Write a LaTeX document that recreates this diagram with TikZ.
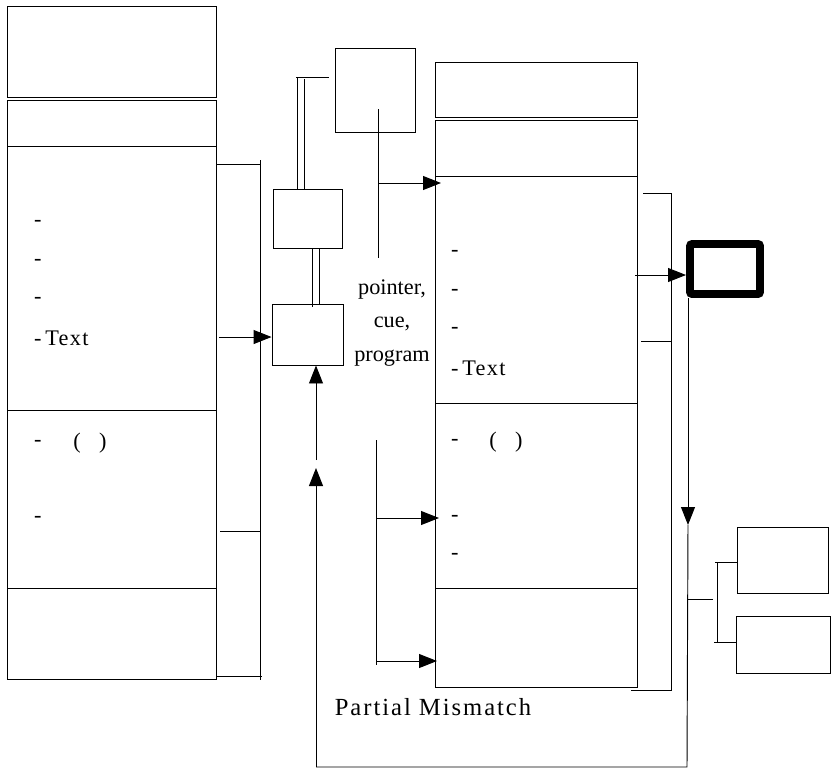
\documentclass[tikz,border=0pt]{standalone}
\usepackage{fontspec}
\setmainfont{Liberation Serif}
\usetikzlibrary{arrows.meta, fit, calc}

\begin{document}
\begin{tikzpicture}[
    x=0.03cm, y=-0.03cm,
    box/.style={draw, line width=0.8pt, inner sep=0pt},
    boldbox/.style={draw, line width=6.8pt, rounded corners=2pt, inner sep=0pt},
    wire/.style={line width=0.8pt},
    arrow/.style={wire, -{Triangle[length=0.54cm, width=0.42cm]}},
    txt/.style={font=\fontsize{19}{29}\selectfont, inner sep=0pt},
    spaced/.style={font=\fontsize{19}{29}\selectfont\addfontfeature{LetterSpace=6}, inner sep=0pt},
]
\useasboundingbox (0,0) rectangle (833,771);

% Left column
\node[box, fit={(7,6) (216,97)}] (lhead) {};
\node[box, fit={(7,100) (216,146)}] (lsub) {};
\node[box, fit={(7,146) (216,410)}] (lbody) {};
\node[box, fit={(7,410) (216,588)}] (lrel) {};
\node[box, fit={(7,588) (216,679)}] (lfoot) {};

\node[txt, anchor=west] at (34,223) {-};
\node[txt, anchor=west] at (34,262) {-};
\node[txt, anchor=west] at (34,300) {-};
\node[spaced, anchor=west] at (34,338) {-\,Text};
\node[txt, anchor=west] at (34,443) {-};
\node[txt] at (90,443) {(\hspace{0.55cm})};
\node[txt, anchor=west] at (34,519) {-};

% Middle boxes
\node[box, fit={(335,48) (415,132)}] (topbox) {};
\node[box, fit={(273,189) (342,248)}] (midbox) {};
\node[box, fit={(272,304) (343,365)}] (lowbox) {};

\node[txt, align=center] (cue) at (392,323) {pointer,\\cue,\\program};

% Right column
\node[box, fit={(435,62) (637,117)}] (rhead) {};
\node[box, fit={(435,120) (637,176)}] (rsub) {};
\node[box, fit={(435,176) (637,403)}] (rbody) {};
\node[box, fit={(435,403) (637,588)}] (rrel) {};
\node[box, fit={(435,588) (637,687)}] (rfoot) {};

\node[txt, anchor=west] at (451,253) {-};
\node[txt, anchor=west] at (451,292) {-};
\node[txt, anchor=west] at (451,330) {-};
\node[spaced, anchor=west] at (451,368) {-\,Text};
\node[txt, anchor=west] at (451,442) {-};
\node[txt] at (506,442) {(\hspace{0.55cm})};
\node[txt, anchor=west] at (451,518) {-};
\node[txt, anchor=west] at (451,556) {-};

\node[font=\fontsize{21}{25}\selectfont\addfontfeature{LetterSpace=8}, inner sep=0pt] (mismatch) at (433,707) {Partial Mismatch};

% Bold box and small boxes
\node[boldbox, fit={(690,244) (760,294)}] (bold) {};
\node[box, fit={(737,527) (828,593)}] (sbox1) {};
\node[box, fit={(736,616) (830,673)}] (sbox2) {};

% Coordinates
\coordinate (lb1) at (217,164);
\coordinate (lb2) at (260,160);
\coordinate (lb3) at (260,680);
\coordinate (lin) at (219,337);
\coordinate (ptop) at (378,109);
\coordinate (pbot) at (378,258);
\coordinate (qtop) at (376,440);
\coordinate (qbot) at (376,665);
\coordinate (rb1) at (643,193);
\coordinate (rb2) at (671,690);
\coordinate (rin) at (635,275);
\coordinate (drop) at (688,525);
\coordinate (corner) at (687,767);
\coordinate (back) at (316,767);
\coordinate (back2) at (316,460);

% Left bracket
\draw[wire] (lb1) -- (lb1 -| lb2);
\draw[wire] (lb2) -- (lb3);
\draw[wire] (220,531) -- (261,531);
\draw[wire] (217,676) -- (262,676);
\draw[arrow] (lin) -- (lin -| lowbox.west);

% Double links between middle boxes
\draw[wire] (296,77) -- (329,77);
\draw[wire] (297,77) -- (297,189);
\draw[wire] (304,79) -- (304,189);
\draw[wire] (312,248) -- (312,307);
\draw[wire] (319,248) -- (319,304);

% Pointer lines
\draw[wire] (ptop) -- (pbot);
\draw[arrow] (378,183) -- (441,183);
\draw[wire] (qtop) -- (qbot);
\draw[arrow] (376,518) -- (439,518);
\draw[arrow] (376,661) -- (437,661);

% Right bracket
\draw[wire] (rb1) -- (rb1 -| rb2) -- (rb2) -- (631,690);
\draw[wire] (641,341) -- (671,341);
\draw[arrow] (rin) -- (rin -| bold.west);

% Feedback loop
\draw[arrow] (688,298) -- (drop);
\draw[wire] (drop) -- (corner) -- (back);
\draw[arrow] (back) -- (316,468);
\draw[arrow] (back2) -- (back2 |- lowbox.south);

% Small boxes bracket
\draw[wire] (687,599) -- (713,599);
\draw[wire] (717,562) -- (717,642);
\draw[wire] (715,562) -- (sbox1.west |- 0,562);
\draw[wire] (714,642) -- (sbox2.west |- 0,642);

\end{tikzpicture}
\end{document}
